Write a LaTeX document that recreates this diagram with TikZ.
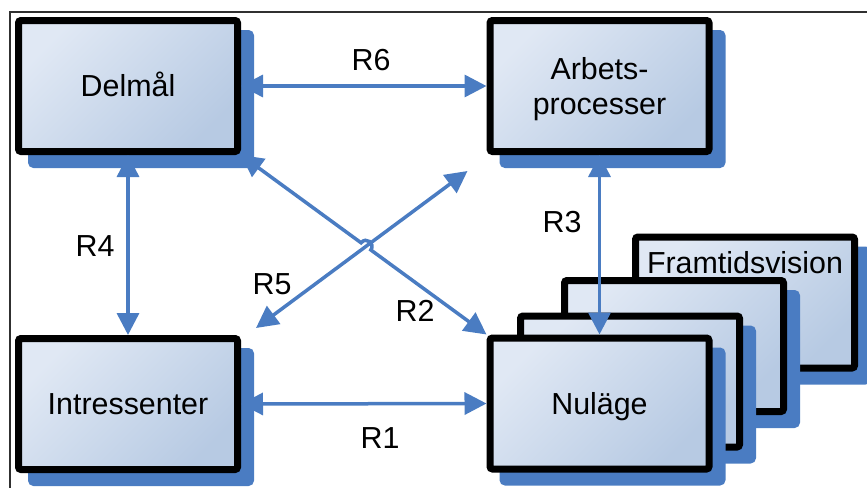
\documentclass[tikz,border=0pt]{standalone}
\usepackage{fontspec}
\setmainfont{Liberation Sans}
\usetikzlibrary{arrows.meta,calc,shadows}
\definecolor{boxlight}{HTML}{E0E8F4}
\definecolor{boxdark}{HTML}{B7CAE3}
\definecolor{shadowblue}{HTML}{4A7CC2}
\definecolor{linkblue}{HTML}{4A7CC2}
\definecolor{framegray}{HTML}{303030}
\newcommand\diagfont{\fontsize{30.4}{35}\selectfont}

\begin{document}
\begin{tikzpicture}[x=1pt,y=-1pt,
  card/.style={draw=black, line width=7pt, rounded corners=2.5pt,
    minimum width=219pt, minimum height=131pt, inner sep=0pt,
    top color=boxlight, bottom color=boxdark, shading angle=45,
    drop shadow={shadow xshift=13pt, shadow yshift=-13pt, opacity=1,
      fill=shadowblue, draw=shadowblue, line width=7pt, sharp corners},
    font=\diagfont, align=center},
  oneline/.style={text height=27.5pt, text depth=6.45pt},
  twoline/.style={text height=59pt, text depth=2.6pt},
  lbl/.style={font=\diagfont, inner sep=0pt},
  link/.style={draw=linkblue, line width=3.5pt,
    {Triangle[length=22pt,width=22pt]}-{Triangle[length=22pt,width=22pt]}}]

\useasboundingbox (0,0) rectangle (867,488);

% page frame (top and left edges only)
\draw[framegray, line width=1.3pt] (9,12) -- (867,12);
\draw[framegray, line width=1.3pt] (10,12) -- (10,488);

% main boxes
\node[card, oneline] (delmal) at (128,86) {Delmål};
\node[card, twoline] (arb) at (599.5,86) {Arbets-\\processer};
\node[card, oneline] (intr) at (128,404) {Intressenter};

% stack of states, back to front
\node[card] (vision) at (745,302.5) {};
\node[lbl] (visiontext) at (745,263) {Framtidsvision};
\node[card] (state3) at (674,346) {};
\node[card] (state2) at (630,381.5) {};
\node[card, oneline] (nulage) at (599.5,403.5) {Nuläge};

% relations
\draw[link] (delmal.east) -- (arb.west);
\draw[link] (delmal.south) -- (intr.north);
\draw[link] (intr.east) -- (nulage.west);
\draw[link] (arb.south) -- (nulage.north);

\coordinate (r5a) at ($(intr.north east)+(15,-7)$);
\coordinate (r5b) at ($(arb.south west)+(-19,16)$);
\draw[link] (r5a) -- (r5b);

% R2 hops over R5 where they cross
\coordinate (cross) at (intersection of delmal.south east--nulage.north west and r5a--r5b);
\coordinate (hopa) at ($(cross)!6pt!(delmal.south east)$);
\coordinate (hopb) at ($(cross)!6pt!(nulage.north west)$);
\draw[link] (delmal.south east) -- (hopa)
  .. controls ($(hopa)!8pt!90:(cross)$) and ($(hopb)!8pt!-90:(cross)$) .. (hopb)
  -- (nulage.north west);

% relation labels
\node[lbl] (l6) at (371,60) {R6};
\node[lbl] (l4) at (95,246) {R4};
\node[lbl] (l1) at (380,438) {R1};
\node[lbl] (l3) at (562,222) {R3};
\node[lbl] (l5) at (272,284) {R5};
\node[lbl] (l2) at (415,311) {R2};
\end{tikzpicture}
\end{document}
